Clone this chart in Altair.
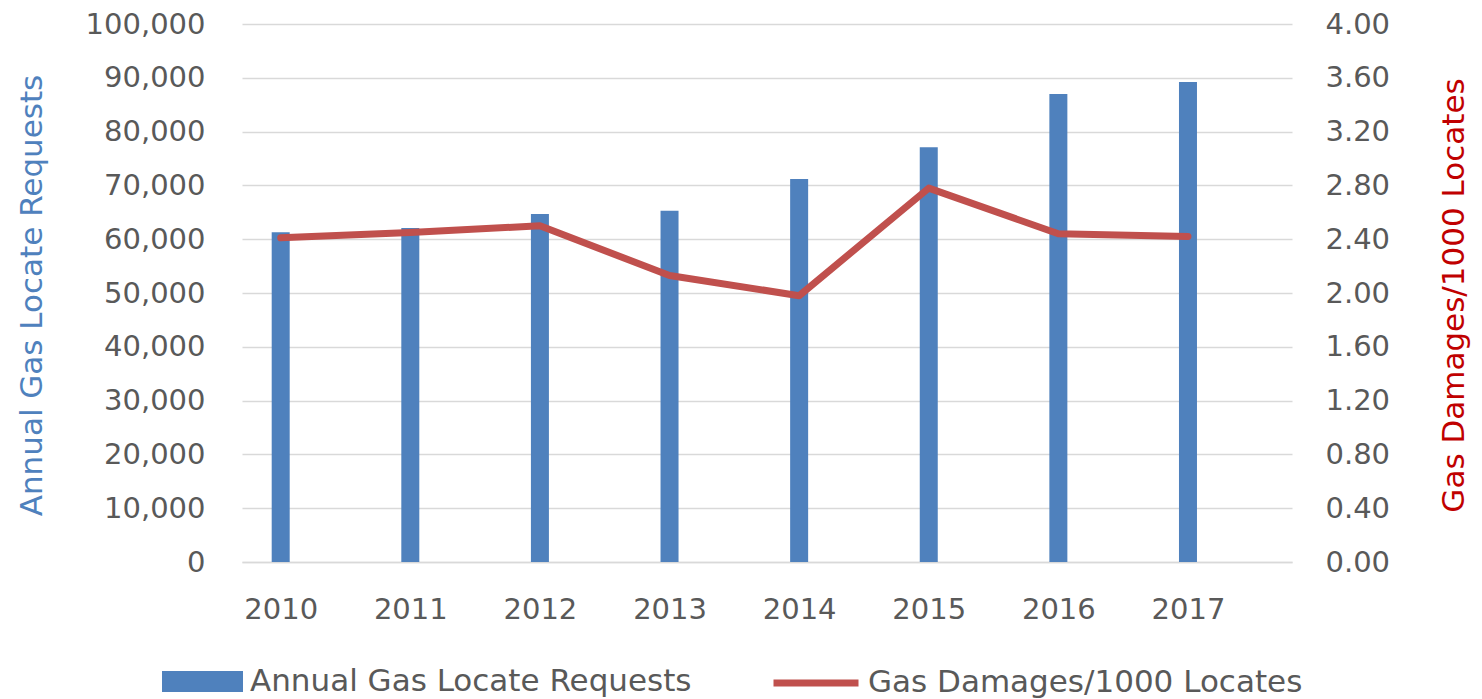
import altair as alt
import pandas as pd

years = [2010, 2011, 2012, 2013, 2014, 2015, 2016, 2017]
requests = [61300, 62100, 64700, 65300, 71200, 77100, 87000, 89200]
damages = [2.41, 2.45, 2.50, 2.13, 1.98, 2.78, 2.44, 2.42]

bar_label = "Annual Gas Locate Requests"
line_label = "Gas Damages/1000 Locates"

left_ticks = [0, 10000, 20000, 30000, 40000, 50000, 60000, 70000, 80000, 90000, 100000]
right_ticks = [0, 0.4, 0.8, 1.2, 1.6, 2.0, 2.4, 2.8, 3.2, 3.6, 4.0]

df = pd.DataFrame({
    "year": years,
    "requests": requests,
    "damages": damages,
    "s1": [bar_label] * len(years),
    "s2": [line_label] * len(years),
})

FONT = "DejaVu Sans"
GRAY = "#595959"
FS = 29
TFS = 31

x_enc = alt.X(
    "year:Q",
    scale=alt.Scale(domain=[2009.74, 2017.764], nice=False, zero=False),
    axis=alt.Axis(
        values=years, format="d", title=None, grid=False, ticks=False,
        domain=True, domainColor="#d9d9d9", domainWidth=1.5,
        labelFont=FONT, labelFontSize=FS, labelColor=GRAY, labelPadding=33,
    ),
)

bars = alt.Chart(df).mark_bar(size=18).encode(
    x=x_enc,
    y=alt.Y(
        "requests:Q",
        scale=alt.Scale(domain=[0, 100000], nice=False),
        axis=alt.Axis(
            values=left_ticks, format=",.0f", orient="left",
            title=bar_label, titleColor="#4f81bd", titleFont=FONT,
            titleFontSize=TFS, titleFontWeight="normal", titleAngle=270,
            titleX=-210, titleY=271, titleAlign="center", titleBaseline="middle",
            grid=True, gridColor="#d9d9d9", gridWidth=1.5,
            ticks=False, domain=False,
            labelFont=FONT, labelFontSize=FS, labelColor=GRAY, labelPadding=37,
        ),
    ),
    color=alt.Color(
        "s1:N",
        scale=alt.Scale(domain=[bar_label], range=["#4f81bd"]),
        legend=alt.Legend(
            title=None, orient="none", legendX=-80, legendY=617,
            symbolType="M-1,-0.26L1,-0.26L1,0.26L-1,0.26Z", symbolSize=6561,
            symbolStrokeWidth=0, labelFont=FONT, labelFontSize=TFS,
            labelColor=GRAY, labelOffset=7, padding=0, labelLimit=600,
        ),
    ),
)

line = alt.Chart(df).mark_line(strokeWidth=7, strokeCap="round", strokeJoin="round").encode(
    x=x_enc,
    y=alt.Y(
        "damages:Q",
        scale=alt.Scale(domain=[0, 4], nice=False),
        axis=alt.Axis(
            values=right_ticks, format=".2f", orient="right",
            title=line_label, titleColor="#c00000", titleFont=FONT,
            titleFontSize=TFS, titleFontWeight="normal", titleAngle=270,
            titleX=162, titleY=271, titleAlign="center", titleBaseline="middle",
            grid=False, ticks=False, domain=False,
            labelFont=FONT, labelFontSize=FS, labelColor=GRAY, labelPadding=33,
        ),
    ),
    color=alt.Color(
        "s2:N",
        scale=alt.Scale(domain=[line_label], range=["#c0504d"]),
        legend=alt.Legend(
            title=None, orient="none", legendX=528, legendY=613,
            symbolType="stroke", symbolSize=7225, symbolStrokeWidth=7,
            labelFont=FONT, labelFontSize=TFS, labelColor=GRAY,
            labelOffset=6, padding=0, labelLimit=600,
        ),
    ),
)

chart = alt.layer(bars, line).resolve_scale(y="independent", color="independent").properties(
    width=1050,
    height=538,
    background="white",
    padding={"left": 234, "top": 16, "right": 182, "bottom": 136},
    autosize=alt.AutoSizeParams(type="none"),
).configure_view(strokeWidth=0, stroke="transparent")

chart.save("out.html", embed_options={"renderer": "svg", "actions": False})
